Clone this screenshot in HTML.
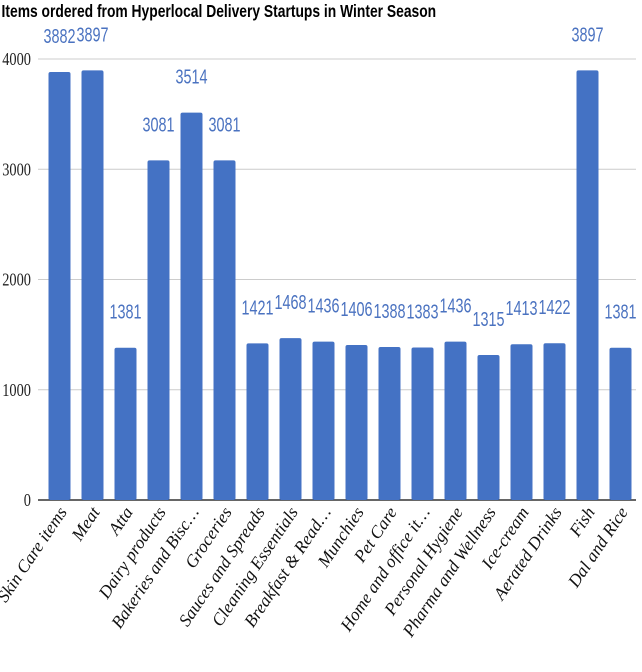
<!DOCTYPE html>
<html><head><meta charset="utf-8"><style>
body{margin:0;background:#fff;width:642px;height:672px;overflow:hidden}
svg{display:block}
</style></head><body>
<svg id="chart" width="642" height="672" xmlns="http://www.w3.org/2000/svg">
<text x="2" y="17" font-family="Liberation Sans, sans-serif" font-weight="bold" font-size="18" transform="scale(0.77,1)" fill="#000">Items ordered from Hyperlocal Delivery Startups in Winter Season</text>
<g id="grid"></g><g id="bars"></g><g id="labels"></g>
</svg>
<script>
const categories=["Skin Care items","Meat","Atta","Dairy products","Bakeries and Bisc…","Groceries","Sauces and Spreads","Cleaning Essentials","Breakfast & Read…","Munchies","Pet Care","Home and office it…","Personal Hygiene","Pharma and Wellness","Ice-cream","Aerated Drinks","Fish","Dal and Rice"];
const values=[3882,3897,1381,3081,3514,3081,1421,1468,1436,1406,1388,1383,1436,1315,1413,1422,3897,1381];
const ticks=[0,1000,2000,3000,4000];
const NS="http://www.w3.org/2000/svg";
const y0=500,y4=59,left=38,right=636;
const y=v=>y0-(v/4000)*(y0-y4);
const step=33,first=59.5,bw=22;
const x=i=>first+i*step;
function mk(t,a,p){const e=document.createElementNS(NS,t);for(const k in a)e.setAttribute(k,a[k]);p.appendChild(e);return e;}
const grid=document.getElementById('grid');
ticks.forEach(t=>{
  const l=mk('line',{x1:left,x2:right,y1:y(t),y2:y(t),stroke:t===0?'#333':'#ccc','stroke-width':t===0?1.5:1},grid);
  
  
  const tx=mk('text',{'text-anchor':'end','font-family':'Liberation Serif, serif','font-size':18,fill:'#222',transform:`translate(31,${y(t)+6}) scale(0.8,1)`},grid);
  tx.textContent=t;
  
  
});
const bars=document.getElementById('bars'),labels=document.getElementById('labels');
values.forEach((v,i)=>{
  const r=mk('rect',{x:x(i)-bw/2,y:y(v),width:bw,height:y0-y(v),fill:'#4472c4',rx:2},bars);
  
  
  const vt=mk('text',{'text-anchor':'middle','font-family':'Liberation Sans, sans-serif','font-size':20,fill:'#4a72c0',transform:`translate(${x(i)},${y(v)-29}) scale(0.72,1)`},labels);
  vt.textContent=v;
  
  
  const ct=mk('text',{'text-anchor':'end','font-family':'Liberation Serif, serif','font-size':17.5,'font-style':'italic',fill:'#111',transform:`translate(${x(i)+8},${y0+12}) rotate(-56)`},labels);
  ct.textContent=categories[i];
  
  
});
</script>
</body></html>
